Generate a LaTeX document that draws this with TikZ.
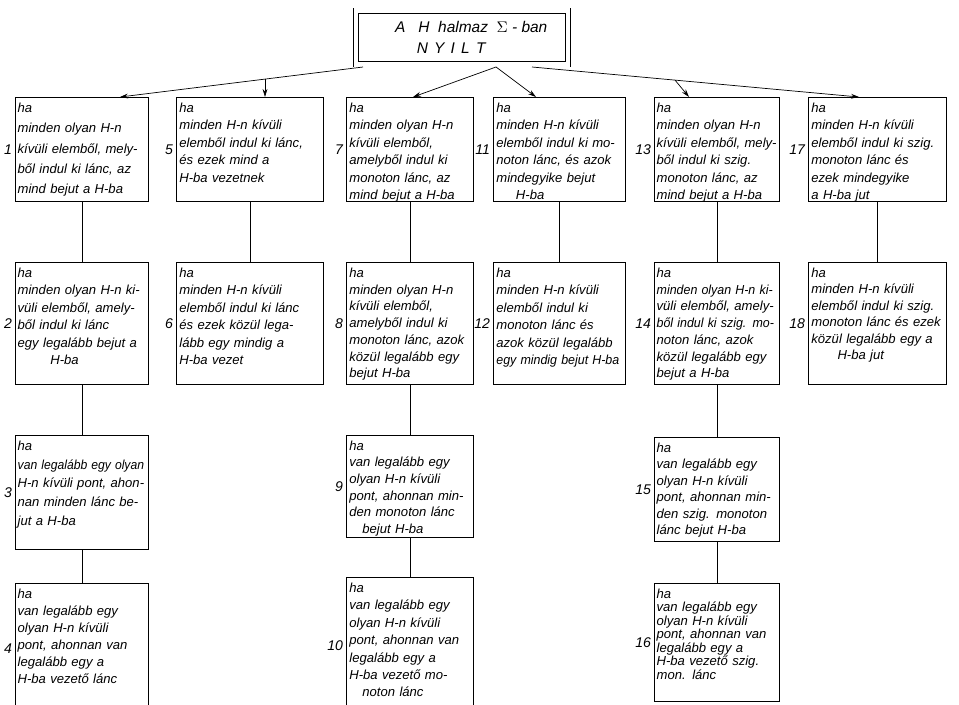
\documentclass[tikz,border=0pt]{standalone}
\usepackage{fontspec}
\usepackage{graphicx}
\newfontfamily\stencil{Liberation Sans}
\usetikzlibrary{arrows.meta,positioning,calc}

\begin{document}
\begin{tikzpicture}[x=0.025cm,y=-0.025cm,
    condbox/.style={
      draw,
      line width=0.8pt,
      anchor=north west,
      align=left,
      inner xsep=2pt,
      inner ysep=2.5pt,
      text height=8pt,
      font=\stencil\itshape\fontsize{9.3}{12.4}\selectfont
    },
    lead/.style={font=\stencil\itshape\fontsize{9.3}{#1}\selectfont},
    colA/.style={text width=3.22cm, inner xsep=1.5pt},
    colB/.style={text width=3.53cm},
    colC/.style={text width=3.03cm},
    colD/.style={text width=3.16cm},
    colE/.style={text width=3.02cm, inner xsep=1.5pt},
    colF/.style={text width=3.31cm},
    numlbl/.style={font=\stencil\itshape\fontsize{10}{12}\selectfont, inner sep=1pt},
    headbox/.style={
      draw,
      double,
      double distance=3.5pt,
      line width=0.6pt,
      minimum width=5.3cm,
      minimum height=1.33cm,
      align=left,
      font=\stencil\itshape\fontsize{11}{14.5}\selectfont
    },
    arrow/.style={
      -{Stealth[length=2mm,width=1.2mm]},
      line width=0.5pt
    },
    link/.style={line width=0.6pt}]

    \useasboundingbox (0,0) rectangle (959,704);
    \clip (0,0) rectangle (959,704);

    % Head
    \node[headbox] (top) at (462,37.5) {
      \hspace*{1.2em}A\ \ \ H\ \ halmaz\ \ \(\Sigma\) - ban\\
      \hspace*{2.6em}N\hspace{0.4em}Y\hspace{0.4em}I\hspace{0.4em}L\hspace{0.4em}T
    };

    % Row 1
    \node[condbox,colA,lead=14.5pt,text depth=2.15cm] (b1) at (15,97) {
      ha\\ minden olyan H-n\\ kívüli elemből, mely-\\ ből indul ki lánc, az\\ mind bejut a H-ba};
    \node[condbox,colB,text depth=2.15cm] (b5) at (176,97) {
      ha\\ minden H-n kívüli\\ elemből indul ki lánc,\\ és ezek mind a\\ H-ba vezetnek};
    \node[condbox,colC,text depth=2.15cm] (b7) at (346,97) {
      ha\\ minden olyan H-n\\ kívüli elemből,\\ amelyből indul ki\\ monoton lánc, az\\ mind bejut a H-ba};
    \node[condbox,colD,text depth=2.15cm] (b11) at (493,97) {
      ha\\ minden H-n kívüli\\ elemből indul ki mo-\\ noton lánc, és azok\\ mindegyike bejut\\ \hspace*{1.5em}H-ba};
    \node[condbox,colE,text depth=2.15cm] (b13) at (654,97) {
      ha\\ minden olyan H-n\\ kívüli elemből, mely-\\ ből indul ki szig.\\ monoton lánc, az\\ mind bejut a H-ba};
    \node[condbox,colF,text depth=2.15cm] (b17) at (808,97) {
      ha\\ minden H-n kívüli\\ elemből indul ki szig.\\ monoton lánc és\\ ezek mindegyike\\ a H-ba jut};

    % Row 2
    \node[condbox,colA,text depth=2.58cm] (b2) at (15,262) {
      ha\\ minden olyan H-n ki-\\ vüli elemből, amely-\\ ből indul ki lánc\\ egy legalább bejut a\\ \hspace*{2.5em}H-ba};
    \node[condbox,colB,text depth=2.58cm] (b6) at (176,262) {
      ha\\ minden H-n kívüli\\ elemből indul ki lánc\\ és ezek közül lega-\\ lább egy mindig a\\ H-ba vezet};
    \node[condbox,colC,lead=11.9pt,text depth=2.58cm] (b8) at (346,262) {
      ha\\ minden olyan H-n\\ kívüli elemből,\\ amelyből indul ki\\ monoton lánc, azok\\ közül legalább egy\\ bejut H-ba};
    \node[condbox,colD,text depth=2.58cm] (b12) at (493,262) {
      ha\\ minden H-n kívüli\\ elemből indul ki\\ monoton lánc és\\ azok közül legalább\\ \scalebox{0.95}[1]{egy mindig bejut H-ba}};
    \node[condbox,colE,lead=11.9pt,text depth=2.58cm] (b14) at (654,262) {
      ha\\ \scalebox{0.95}[1]{minden olyan H-n ki-}\\ vüli elemből, amely-\\ \scalebox{0.95}[1]{ből indul ki szig. mo-}\\ noton lánc, azok\\ közül legalább egy\\ bejut a H-ba};
    \node[condbox,colF,lead=11.7pt,text depth=2.58cm] (b18) at (808,262) {
      ha\\ minden H-n kívüli\\ elemből indul ki szig.\\ monoton lánc és ezek\\ közül legalább egy a\\ \hspace*{2em}H-ba jut};

    % Row 3
    \node[condbox,colA,lead=13.3pt,text depth=2.38cm] (b3) at (15,435) {
      ha\\ \scalebox{0.93}[1]{van legalább egy olyan}\\ H-n kívüli pont, ahon-\\ nan minden lánc be-\\ jut a H-ba};
    \node[condbox,colC,lead=11.8pt,text depth=2.08cm] (b9) at (346,435) {
      ha\\ van legalább egy\\ olyan H-n kívüli\\ pont, ahonnan min-\\ den monoton lánc\\ \hspace*{1em}bejut H-ba};
    \node[condbox,colE,lead=11.7pt,text depth=2.15cm] (b15) at (654,437) {
      ha\\ van legalább egy\\ olyan H-n kívüli\\ pont, ahonnan min-\\ den szig. monoton\\ lánc bejut H-ba};

    % Row 4
    \node[condbox,colA,lead=12.1pt,text depth=2.8cm] (b4) at (15,583) {
      ha\\ van legalább egy\\ olyan H-n kívüli\\ pont, ahonnan van\\ legalább egy a\\ H-ba vezető lánc};
    \node[condbox,colC,text depth=2.95cm] (b10) at (346,577) {
      ha\\ van legalább egy\\ olyan H-n kívüli\\ pont, ahonnan van\\ legalább egy a\\ H-ba vezető mo-\\ \hspace*{1em}noton lánc};
    \node[condbox,colE,lead=9.6pt,text depth=2.5cm] (b16) at (654,583) {
      ha\\ van legalább egy\\ olyan H-n kívüli\\ pont, ahonnan van\\ legalább egy a\\ H-ba vezető szig.\\ mon. lánc};

    % Numbers
    \foreach \i in {1,...,18}
      \node[numlbl, left=1pt of b\i] (n\i) {\i};

    % Arrows from the head
    \coordinate (sL) at (363,67);
    \coordinate (sM) at (496,67);
    \coordinate (sR) at (532,67);
    \coordinate (j5) at (265,79.1);
    \coordinate (j13) at (675,80.1);
    \draw[arrow] (sL) -- ($(b1.north west)+(105,0)$);
    \draw[arrow] (j5) -- (j5 |- b5.north);
    \draw[arrow] (sM) -- ($(b7.north west)+(67,0)$);
    \draw[arrow] (sM) -- ($(b11.north west)+(43,0)$);
    \draw[arrow] (sR) -- ($(b17.north west)+(51,0)$);
    \draw[arrow] (j13) -- ($(b13.north west)+(35,0)$);

    % Links down the columns
    \draw[link] (b1.south) -- (b2.north);
    \draw[link] (b2.south) -- (b3.north);
    \draw[link] (b3.south) -- (b4.north);
    \draw[link] (b5.south) -- (b6.north);
    \draw[link] (b7.south) -- (b8.north);
    \draw[link] (b8.south) -- (b9.north);
    \draw[link] (b9.south) -- (b10.north);
    \draw[link] (b11.south) -- (b12.north);
    \draw[link] (b13.south) -- (b14.north);
    \draw[link] (b14.south) -- (b15.north);
    \draw[link] (b15.south) -- (b16.north);
    \draw[link] (b17.south) -- (b18.north);
  \end{tikzpicture}
\end{document}
